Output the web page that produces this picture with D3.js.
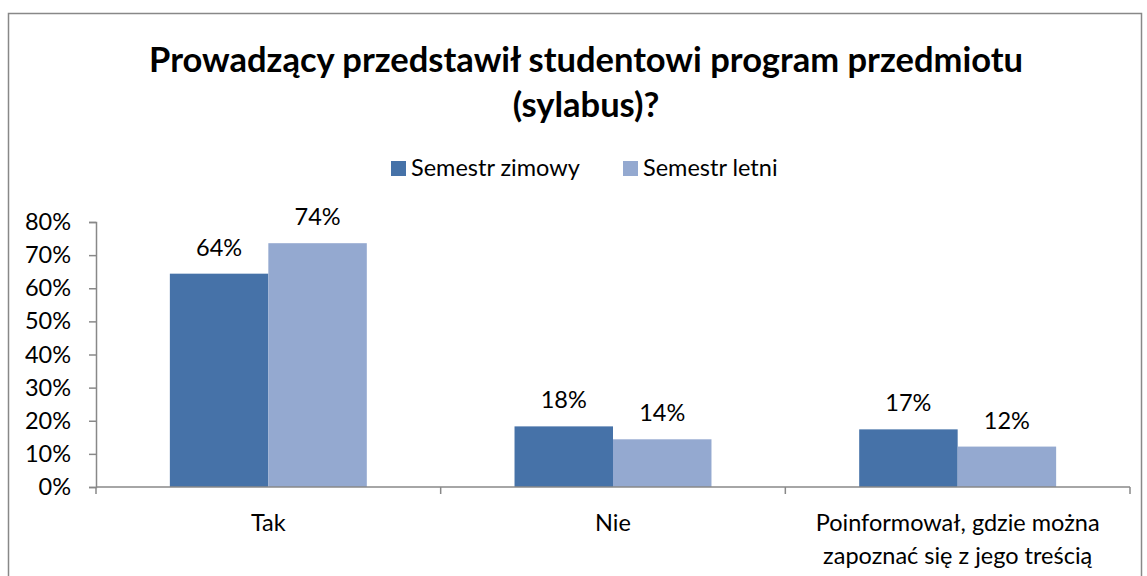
<!DOCTYPE html>
<html>
<head>
<meta charset="utf-8">
<script src="https://cdn.jsdelivr.net/npm/d3@7"></script>
<style>
  body { margin: 0; background: #fff; }
  text { font-family: Lato, "Open Sans", sans-serif; fill: #000; }
</style>
</head>
<body>
<div id="chart"></div>
<script>
var categories = ["Tak", "Nie", "Poinformował, gdzie można zapoznać się z jego treścią"];
var seriesNames = ["Semestr zimowy", "Semestr letni"];
var zimowy = [0.644, 0.183, 0.174];
var letni = [0.736, 0.144, 0.122];
var yTicks = [0, 0.1, 0.2, 0.3, 0.4, 0.5, 0.6, 0.7, 0.8];

var colors = ["#4672A8", "#94A9D0"];
var width = 1147, height = 576;
var fs = "23.5px";

var svg = d3.select("#chart").append("svg")
    .attr("width", width)
    .attr("height", height);

// outer frame
svg.append("rect")
    .attr("x", 8.5).attr("y", 13.5)
    .attr("width", 1133).attr("height", 600)
    .attr("fill", "none").attr("stroke", "#888").attr("stroke-width", 1.5);

//------------- title -------------
var title = svg.append("text")
    .attr("text-anchor", "middle")
    .style("font-weight", "700")
    .style("font-size", "34.5px");
title.append("tspan").attr("x", 586).attr("y", 72).text("Prowadzący przedstawił studentowi program przedmiotu");
title.append("tspan").attr("x", 586).attr("y", 117).text("(sylabus)?");

//------------- legend -------------
var legendX = [391, 623];
seriesNames.forEach(function(name, i) {
    svg.append("rect")
        .attr("x", legendX[i]).attr("y", 161)
        .attr("width", 15).attr("height", 15)
        .attr("fill", colors[i]);
    svg.append("text")
        .attr("x", legendX[i] + 20).attr("y", 176)
        .style("font-size", fs)
        .text(name);
});

//------------- scales -------------
var x0 = d3.scaleBand().domain(categories).range([96, 1130]).paddingInner(0).paddingOuter(0);
var x1 = d3.scaleBand().domain([0, 1]).range([0, x0.bandwidth()]).paddingOuter(0.75).paddingInner(0);
var y = d3.scaleLinear().domain([0, 0.8]).range([487, 222]);

// y axis
var yAxis = svg.append("g")
    .attr("transform", "translate(96,0)")
    .call(d3.axisLeft(y).tickValues(yTicks).tickFormat(d3.format(".0%")).tickSize(7).tickPadding(18));
yAxis.select(".domain").attr("stroke", "#888").attr("stroke-width", 1.5);
yAxis.selectAll(".tick line").attr("stroke", "#888").attr("stroke-width", 1.5);
yAxis.selectAll(".tick text").style("font-size", fs).attr("fill", "#000")
    .style("font-family", "Lato, 'Open Sans', sans-serif");

//------------- bars -------------
var groups = svg.selectAll(".grp")
    .data(categories)
    .join("g")
    .attr("transform", function(d) { return "translate(" + x0(d) + ",0)"; });

groups.each(function(cat, ci) {
    var g = d3.select(this);
    var vals = [zimowy[ci], letni[ci]];
    vals.forEach(function(v, si) {
        g.append("rect")
            .attr("x", x1(si))
            .attr("y", y(v))
            .attr("width", x1.bandwidth())
            .attr("height", y(0) - y(v))
            .attr("fill", colors[si]);
        g.append("text")
            .attr("x", x1(si) + x1.bandwidth() / 2)
            .attr("y", y(v) - 18)
            .attr("text-anchor", "middle")
            .style("font-size", fs)
            .text(d3.format(".0%")(v));
    });
});

// x axis
var xAxis = svg.append("g")
    .attr("transform", "translate(0,487)");
xAxis.append("line")
    .attr("x1", 96).attr("x2", 1130)
    .attr("stroke", "#888").attr("stroke-width", 1.5);
var bounds = categories.map(function(c) { return x0(c); }).concat([x0.range()[1]]);
xAxis.selectAll(".xt")
    .data(bounds)
    .join("line")
    .attr("x1", function(d) { return d; }).attr("x2", function(d) { return d; })
    .attr("y1", 0).attr("y2", 7)
    .attr("stroke", "#888").attr("stroke-width", 1.5);

var catLines = [["Tak"], ["Nie"], ["Poinformował, gdzie można", "zapoznać się z jego treścią"]];
categories.forEach(function(c, i) {
    var t = svg.append("text")
        .attr("text-anchor", "middle")
        .style("font-size", fs);
    catLines[i].forEach(function(line, li) {
        t.append("tspan")
            .attr("x", x0(c) + x0.bandwidth() / 2)
            .attr("y", 531 + li * 33)
            .text(line);
    });
});
</script>
</body>
</html>
